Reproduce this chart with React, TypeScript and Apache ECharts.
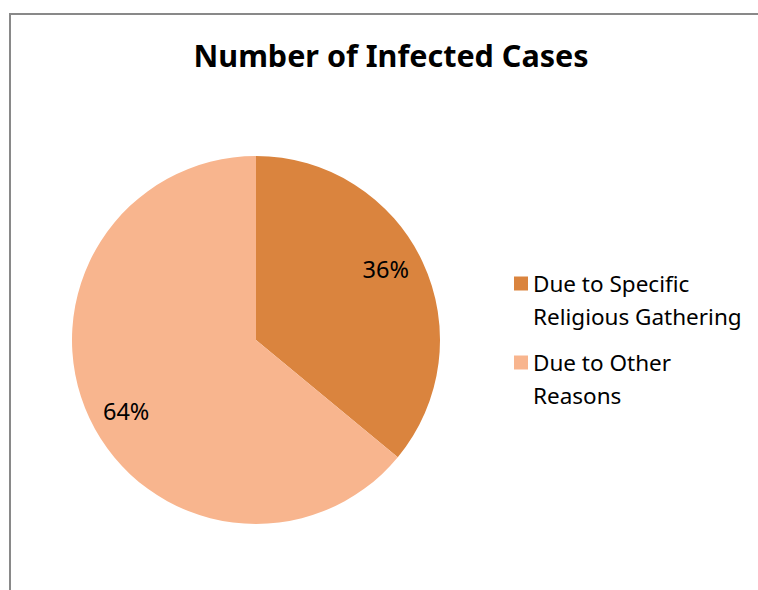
import React, { useEffect, useRef } from "react";
import * as echarts from "echarts";

const titleText = "Number of Infected Cases";
const categories = ["Due to Specific Religious Gathering", "Due to Other Reasons"];
const values = [36, 64];
const colors = ["#DA843E", "#F8B58E"];

export default function App() {
  const ref = useRef<HTMLDivElement>(null);
  useEffect(() => {
    if (!ref.current) return;
    const chart = echarts.init(ref.current, undefined, { renderer: "svg" });
    const data = categories.map((name, i) => ({ name, value: values[i], itemStyle: { color: colors[i] } }));
    chart.setOption({
      animation: false,
      backgroundColor: "#ffffff",
      graphic: [
        {
          type: "rect",
          shape: { x: 10, y: 14, width: 800, height: 620 },
          style: { fill: "none", stroke: "#898989", lineWidth: 2 },
          silent: true,
        },
      ],
      title: {
        text: titleText,
        left: 391,
        textAlign: "center",
        top: 39,
        padding: 0,
        textStyle: { fontFamily: "Noto Sans", fontWeight: "bold", fontSize: 30.5, color: "#000" },
      },
      legend: {
        orient: "vertical",
        left: 514,
        top: 234,
        padding: 0,
        itemWidth: 14,
        itemHeight: 14,
        itemGap: -20,
        icon: "rect",
        data: categories,
        formatter: (name: string) => "\n" + name,
        textStyle: {
          fontFamily: "Noto Sans",
          fontSize: 22.5,
          color: "#000",
          lineHeight: 33,
          width: 222,
          overflow: "break",
        },
      },
      series: [
        {
          type: "pie",
          center: [256, 340],
          radius: [0, 184],
          startAngle: 90,
          clockwise: true,
          label: { show: false },
          labelLine: { show: false },
          data,
          silent: true,
        },
        {
          type: "pie",
          center: [256, 340],
          radius: [106, 184],
          startAngle: 93.5,
          clockwise: true,
          silent: true,
          itemStyle: { color: "rgba(0,0,0,0)" },
          label: {
            show: true,
            position: "inside",
            formatter: (p: any) => `${p.value}%`,
            fontFamily: "Noto Sans",
            fontSize: 23.5,
            color: "#000",
          },
          labelLine: { show: false },
          data: categories.map((name, i) => ({ name, value: values[i], itemStyle: { color: "rgba(0,0,0,0)" } })),
        },
      ],
    });
    return () => chart.dispose();
  }, []);
  return (
    <div
      ref={ref}
      style={{ position: "fixed", left: 0, top: 0, width: 758, height: 590, background: "#fff" }}
    />
  );
}
